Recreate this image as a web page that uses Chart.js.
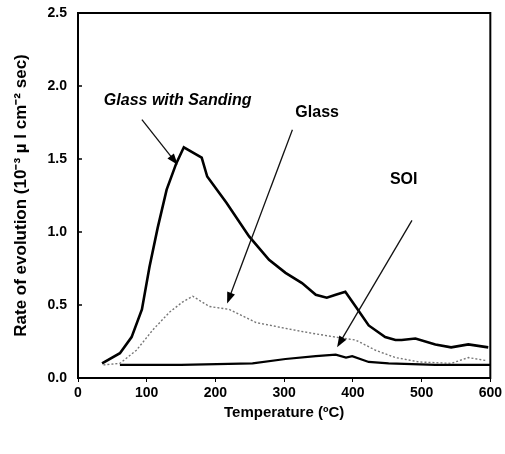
<!DOCTYPE html>
<html>
<head>
<meta charset="utf-8">
<script src="https://cdn.jsdelivr.net/npm/chart.js@4.4.0/dist/chart.umd.min.js"></script>
<style>
  html, body { margin: 0; padding: 0; background: #fff; }
  #wrap { width: 505px; height: 454px; }
</style>
</head>
<body>
<div id="wrap"><canvas id="myChart"></canvas></div>
<script>
// values (temperature in C, rate in 10^-3 ul cm^-2 sec)
const tempSanding = [35, 61, 78, 93, 104, 116, 129, 143, 154, 180, 188, 216, 249, 278, 302, 326, 346, 362, 375, 389, 404, 423, 447, 462, 471, 491, 520, 543, 568, 597];
const rateSanding = [0.10, 0.17, 0.28, 0.47, 0.76, 1.03, 1.29, 1.47, 1.58, 1.51, 1.38, 1.20, 0.97, 0.81, 0.72, 0.65, 0.57, 0.55, 0.57, 0.59, 0.49, 0.36, 0.28, 0.26, 0.26, 0.27, 0.23, 0.21, 0.23, 0.21];

const tempGlass = [37, 61, 85, 109, 133, 152, 167, 191, 220, 259, 302, 336, 375, 404, 433, 462, 496, 543, 568, 593];
const rateGlass = [0.09, 0.10, 0.19, 0.33, 0.45, 0.52, 0.56, 0.49, 0.47, 0.38, 0.34, 0.31, 0.28, 0.26, 0.19, 0.14, 0.11, 0.10, 0.14, 0.12];

const tempSOI = [61, 150, 254, 302, 346, 375, 390, 399, 423, 452, 520, 600];
const rateSOI = [0.09, 0.09, 0.10, 0.13, 0.15, 0.16, 0.14, 0.15, 0.11, 0.10, 0.09, 0.09];

const xTicks = [0, 100, 200, 300, 400, 500, 600];
const yTicks = [0, 0.5, 1.0, 1.5, 2.0, 2.5];

// callouts: label text, text position, arrow tail and head (data units)
const callouts = [
  { text: 'Glass with Sanding', italic: true, tx: 145, ty: 1.90, x0: 93, y0: 1.77, x1: 145, y1: 1.46 },
  { text: 'Glass', italic: false, tx: 348, ty: 1.82, x0: 312, y0: 1.70, x1: 217, y1: 0.51 },
  { text: 'SOI', italic: false, tx: 474, ty: 1.36, x0: 486, y0: 1.08, x1: 377, y1: 0.21 }
];

const pts = (xs, ys) => xs.map((x, i) => ({ x: x, y: ys[i] }));
const FONT = '"Liberation Sans", Arial, sans-serif';

const calloutPlugin = {
  id: 'callouts',
  afterDatasetsDraw(chart) {
    const ctx = chart.ctx;
    const xs = chart.scales.x, ys = chart.scales.y;
    const a = chart.chartArea;
    ctx.save();
    // frame round the plot
    ctx.strokeStyle = '#000';
    ctx.lineWidth = 2;
    ctx.strokeRect(a.left, a.top, a.right - a.left, a.bottom - a.top);
    // short inward ticks on the left axis
    ctx.lineWidth = 1.5;
    ys.ticks.forEach(t => {
      const py = ys.getPixelForValue(t.value);
      ctx.beginPath();
      ctx.moveTo(a.left, py);
      ctx.lineTo(a.left + 4, py);
      ctx.stroke();
    });
    callouts.forEach(c => {
      const px0 = xs.getPixelForValue(c.x0), py0 = ys.getPixelForValue(c.y0);
      const px1 = xs.getPixelForValue(c.x1), py1 = ys.getPixelForValue(c.y1);
      const ang = Math.atan2(py1 - py0, px1 - px0);
      ctx.strokeStyle = '#111';
      ctx.lineWidth = 1.3;
      ctx.beginPath();
      ctx.moveTo(px0, py0);
      ctx.lineTo(px1 - 8 * Math.cos(ang), py1 - 8 * Math.sin(ang));
      ctx.stroke();
      ctx.fillStyle = '#000';
      ctx.beginPath();
      ctx.moveTo(px1, py1);
      ctx.lineTo(px1 - 12 * Math.cos(ang - 0.35), py1 - 12 * Math.sin(ang - 0.35));
      ctx.lineTo(px1 - 12 * Math.cos(ang + 0.35), py1 - 12 * Math.sin(ang + 0.35));
      ctx.closePath();
      ctx.fill();
      ctx.font = (c.italic ? 'italic ' : '') + 'bold 16px ' + FONT;
      ctx.textAlign = 'center';
      ctx.textBaseline = 'middle';
      ctx.fillText(c.text, xs.getPixelForValue(c.tx), ys.getPixelForValue(c.ty));
    });
    ctx.restore();
  }
};

const data = {
  datasets: [
    {
      label: 'Glass with Sanding',
      data: pts(tempSanding, rateSanding),
      borderColor: '#000',
      borderWidth: 2.6,
      pointRadius: 0,
      tension: 0
    },
    {
      label: 'Glass',
      data: pts(tempGlass, rateGlass),
      borderColor: '#777',
      borderWidth: 1.4,
      borderDash: [2, 2],
      pointRadius: 0,
      tension: 0
    },
    {
      label: 'SOI',
      data: pts(tempSOI, rateSOI),
      borderColor: '#000',
      borderWidth: 2.2,
      pointRadius: 0,
      tension: 0
    }
  ]
};

const config = {
  type: 'line',
  data: data,
  plugins: [calloutPlugin],
  options: {
    responsive: true,
    maintainAspectRatio: false,
    animation: false,
    layout: { padding: { top: 13, right: 13, left: 7, bottom: 28 } },
    plugins: { legend: { display: false }, tooltip: { enabled: false } },
    scales: {
      x: {
        type: 'linear',
        min: 0,
        max: 600,
        afterBuildTicks: s => { s.ticks = xTicks.map(v => ({ value: v })); },
        afterFit: s => { s.height = 48; },
        grid: { drawOnChartArea: false, tickLength: 4, color: '#000' },
        border: { color: '#000', width: 2 },
        ticks: { color: '#000', font: { family: FONT, size: 14, weight: 'bold' }, padding: 3 },
        title: {
          display: true,
          text: 'Temperature (ºC)',
          color: '#000',
          font: { family: FONT, size: 15, weight: 'bold' },
          padding: { top: 12 }
        }
      },
      y: {
        min: 0,
        max: 2.5,
        afterBuildTicks: s => { s.ticks = yTicks.map(v => ({ value: v })); },
        afterFit: s => { s.width = 71; },
        grid: { drawOnChartArea: false, tickLength: 8, tickColor: 'rgba(0,0,0,0)' },
        border: { color: '#000', width: 2 },
        ticks: {
          color: '#000',
          font: { family: FONT, size: 14, weight: 'bold' },
          padding: 3,
          callback: v => v.toFixed(1)
        },
        title: {
          display: true,
          text: 'Rate of evolution (10⁻³ µ l cm⁻² sec)',
          color: '#000',
          font: { family: FONT, size: 17, weight: 'bold' },
          padding: { bottom: 4 }
        }
      }
    }
  }
};

const myChart = new Chart(document.getElementById('myChart'), config);
</script>
</body>
</html>
